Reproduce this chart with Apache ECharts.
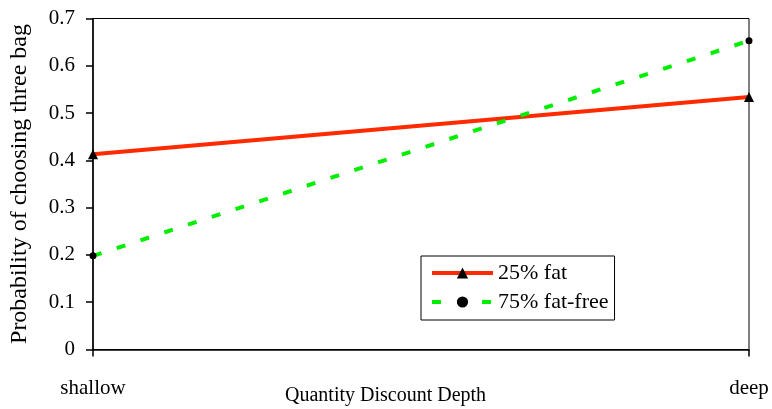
<!DOCTYPE html>
<html>
<head>
<meta charset="utf-8">
<script src="https://cdn.jsdelivr.net/npm/echarts@6/dist/echarts.min.js"></script>
<style>
html,body{margin:0;padding:0;background:#fff;}
#chart{width:772px;height:409px;}
</style>
</head>
<body>
<div id="chart"></div>
<script>
const categories = ['shallow', 'deep'];
const fat25 = [0.413, 0.534];
const fatFree75 = [0.198, 0.653];
const seriesNames = ['25% fat', '75% fat-free'];
const yTicks = { min: 0, max: 0.7, interval: 0.1 };
const xTitle = 'Quantity Discount Depth';
const yTitle = 'Probability of choosing three bag';

const FONT = 'Liberation Serif';
const chart = echarts.init(document.getElementById('chart'), null, { renderer: 'canvas' });
chart.setOption({
  animation: false,
  backgroundColor: '#fff',
  grid: {
    left: 93, right: 23, top: 18.5, bottom: 59.5,
    containLabel: false,
    outerBoundsMode: 'none',
    show: true, borderColor: '#000', borderWidth: 1, backgroundColor: 'transparent'
  },
  xAxis: {
    type: 'category',
    data: categories,
    boundaryGap: false,
    axisLine: { lineStyle: { color: '#000', width: 1.5 } },
    axisTick: { show: true, length: 7, lineStyle: { color: '#000', width: 1.5 } },
    axisLabel: { color: '#000', fontFamily: FONT, fontSize: 21, margin: 28 },
    splitLine: { show: false }
  },
  yAxis: {
    type: 'value',
    min: yTicks.min, max: yTicks.max, interval: yTicks.interval,
    name: yTitle,
    nameLocation: 'middle',
    nameGap: 61,
    nameRotate: 90,
    nameTextStyle: { color: '#000', fontFamily: FONT, fontSize: 24 },
    axisLine: { show: true, lineStyle: { color: '#000', width: 1.5 } },
    axisTick: { show: true, length: 7, lineStyle: { color: '#000', width: 1.5 } },
    axisLabel: { color: '#000', fontFamily: FONT, fontSize: 21, margin: 18 },
    splitLine: { show: false }
  },
  graphic: [{
    type: 'text',
    left: 388 - 103, top: 386,
    style: { text: xTitle, fill: '#000', font: '20px "' + FONT + '"' }
  }],
  legend: {
    orient: 'vertical',
    left: 421, top: 256,
    padding: [6, 6, 7, 9],
    itemGap: 7,
    itemWidth: 61,
    itemHeight: 14,
    borderColor: '#000',
    borderWidth: 1,
    backgroundColor: '#fff',
    lineStyle: { width: 4 },
    textStyle: { color: '#000', fontFamily: FONT, fontSize: 22 },
    data: seriesNames
  },
  series: [
    {
      name: seriesNames[0],
      type: 'line',
      data: fat25,
      symbol: 'triangle',
      symbolSize: 10,
      showAllSymbol: true,
      itemStyle: { color: '#000' },
      lineStyle: { color: '#ff2a00', width: 4 }
    },
    {
      name: seriesNames[1],
      type: 'line',
      data: fatFree75,
      symbol: 'circle',
      symbolSize: 7,
      showAllSymbol: true,
      itemStyle: { color: '#000' },
      lineStyle: { color: '#00ee00', width: 4, type: [9, 16], cap: 'butt' }
    }
  ]
});
</script>
</body>
</html>
